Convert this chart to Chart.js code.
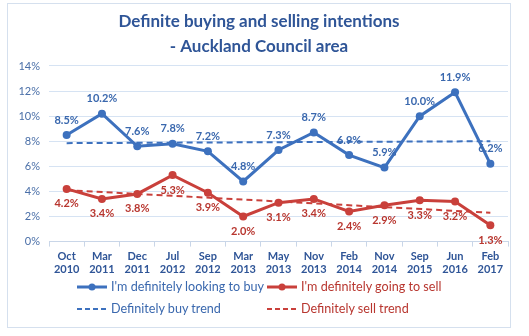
<!DOCTYPE html>
<html>
<head>
<meta charset="utf-8">
<script src="https://cdn.jsdelivr.net/npm/chart.js@4/dist/chart.umd.min.js"></script>
<style>
  body { margin: 0; background: #fff; }
  #wrap { position: relative; width: 529px; height: 336px; }
  #frame { position: absolute; left: 7px; top: 3px; width: 502px; height: 323px; border: 1px solid #D5E0EE; }
  #chart { position: absolute; left: 0; top: 0; }
  .leg { position: absolute; font-family: Lato, sans-serif; font-size: 12.6px; height: 16px; line-height: 16px; white-space: nowrap; }
  .leg svg { position: absolute; left: 0; top: 3px; }
  .leg span { position: absolute; left: 34px; top: 0; }
</style>
</head>
<body>
<div id="wrap">
  <div id="frame"></div>
  <canvas id="chart" width="529" height="336"></canvas>
  <div id="legend"></div>
</div>
<script>
// values (percent)
const periods = [
    ['Oct', '2010'], ['Mar', '2011'], ['Dec', '2011'], ['Jul', '2012'], ['Sep', '2012'],
    ['Mar', '2013'], ['May', '2013'], ['Nov', '2013'], ['Feb', '2014'], ['Nov', '2014'],
    ['Sep', '2015'], ['Jun', '2016'], ['Feb', '2017']
];
const buyValues = [8.5, 10.2, 7.6, 7.8, 7.2, 4.8, 7.3, 8.7, 6.9, 5.9, 10.0, 11.9, 6.2];
const sellValues = [4.2, 3.4, 3.8, 5.3, 3.9, 2.0, 3.1, 3.4, 2.4, 2.9, 3.3, 3.2, 1.3];
// trend lines: only the two ends are read, the line spans the gap
const buyTrend = [7.85, null, null, null, null, null, null, null, null, null, null, null, 8.0];
const sellTrend = [4.1, null, null, null, null, null, null, null, null, null, null, null, 2.3];
const yTicks = [0, 2, 4, 6, 8, 10, 12, 14];

const blue = '#3D71BE';
const red = '#C9403B';
const blueText = '#3A68AE';
const redText = '#B8362F';

Chart.defaults.font.family = 'Lato, sans-serif';

// draws the % labels over / under each point
const valueLabels = {
    id: 'valueLabels',
    afterDatasetsDraw(chart) {
        const ctx = chart.ctx;
        ctx.save();
        ctx.font = 'bold 11px Lato, sans-serif';
        ctx.textAlign = 'center';
        ctx.textBaseline = 'middle';
        [0, 1].forEach(i => {
            const meta = chart.getDatasetMeta(i);
            const data = chart.data.datasets[i].data;
            ctx.fillStyle = i === 0 ? blueText : redText;
            meta.data.forEach((pt, j) => {
                const dy = i === 0 ? -15 : 15;
                ctx.fillText(data[j].toFixed(1) + '%', pt.x, pt.y + dy);
            });
        });
        ctx.restore();
    }
};

const ctx = document.getElementById('chart').getContext('2d');
const chart = new Chart(ctx, {
    type: 'line',
    data: {
        labels: periods,
        datasets: [
            {
                label: "I'm definitely looking to buy",
                data: buyValues,
                borderColor: blue,
                backgroundColor: blue,
                borderWidth: 3,
                pointRadius: 4,
                pointBorderWidth: 0,
                tension: 0
            },
            {
                label: "I'm definitely going to sell",
                data: sellValues,
                borderColor: red,
                backgroundColor: red,
                borderWidth: 3,
                pointRadius: 4,
                pointBorderWidth: 0,
                tension: 0
            },
            {
                label: 'Definitely buy trend',
                data: buyTrend,
                borderColor: blue,
                borderWidth: 2,
                borderDash: [6, 4],
                pointRadius: 0,
                spanGaps: true
            },
            {
                label: 'Definitely sell trend',
                data: sellTrend,
                borderColor: red,
                borderWidth: 2,
                borderDash: [6, 4],
                pointRadius: 0,
                spanGaps: true
            }
        ]
    },
    options: {
        responsive: false,
        animation: false,
        layout: { padding: { left: 10, right: 21, top: 0, bottom: 57 } },
        scales: {
            x: {
                offset: true,
                grid: {
                    offset: true,
                    drawOnChartArea: false,
                    color: '#C9D6E8',
                    tickLength: 5
                },
                border: { color: '#C9D6E8' },
                ticks: {
                    color: '#2F5597',
                    font: { size: 11, weight: 'bold' },
                    maxRotation: 0,
                    minRotation: 0,
                    padding: 3,
                    autoSkip: false
                }
            },
            y: {
                min: 0,
                max: 14,
                afterFit(scale) { scale.width = 39; },
                afterBuildTicks(scale) { scale.ticks = yTicks.map(v => ({ value: v })); },
                grid: { color: '#D6E3F3', drawTicks: false },
                border: { display: false },
                ticks: {
                    color: '#4A6FA8',
                    font: { size: 11 },
                    padding: 9,
                    callback: v => v + '%'
                }
            }
        },
        plugins: {
            legend: { display: false },
            tooltip: { enabled: false },
            title: {
                display: true,
                text: ['Definite buying and selling intentions', '- Auckland Council area'],
                color: '#2F5597',
                font: { size: 17, weight: 'bold', lineHeight: 1.47 },
                padding: { top: 9, bottom: 7 }
            }
        }
    },
    plugins: [valueLabels]
});

// legend in two rows, two columns like the original
const legendItems = [
    { ds: 0, x: 77, y: 279, dot: true, dash: false, text: blueText },
    { ds: 1, x: 267, y: 279, dot: true, dash: false, text: redText },
    { ds: 2, x: 77, y: 301, dot: false, dash: true, text: blueText },
    { ds: 3, x: 267, y: 301, dot: false, dash: true, text: redText }
];
const legendBox = document.getElementById('legend');
legendItems.forEach(item => {
    const ds = chart.data.datasets[item.ds];
    const div = document.createElement('div');
    div.className = 'leg';
    div.style.left = item.x + 'px';
    div.style.top = item.y + 'px';
    const line = item.dash
        ? `<line x1="0" y1="5" x2="30" y2="5" stroke="${ds.borderColor}" stroke-width="2" stroke-dasharray="5 3"/>`
        : `<line x1="0" y1="5" x2="30" y2="5" stroke="${ds.borderColor}" stroke-width="3"/>`;
    const dot = item.dot ? `<circle cx="15" cy="5" r="3.5" fill="${ds.borderColor}"/>` : '';
    div.innerHTML = `<svg width="30" height="10">${line}${dot}</svg><span style="color:${item.text}">${ds.label}</span>`;
    legendBox.appendChild(div);
});
</script>
</body>
</html>
